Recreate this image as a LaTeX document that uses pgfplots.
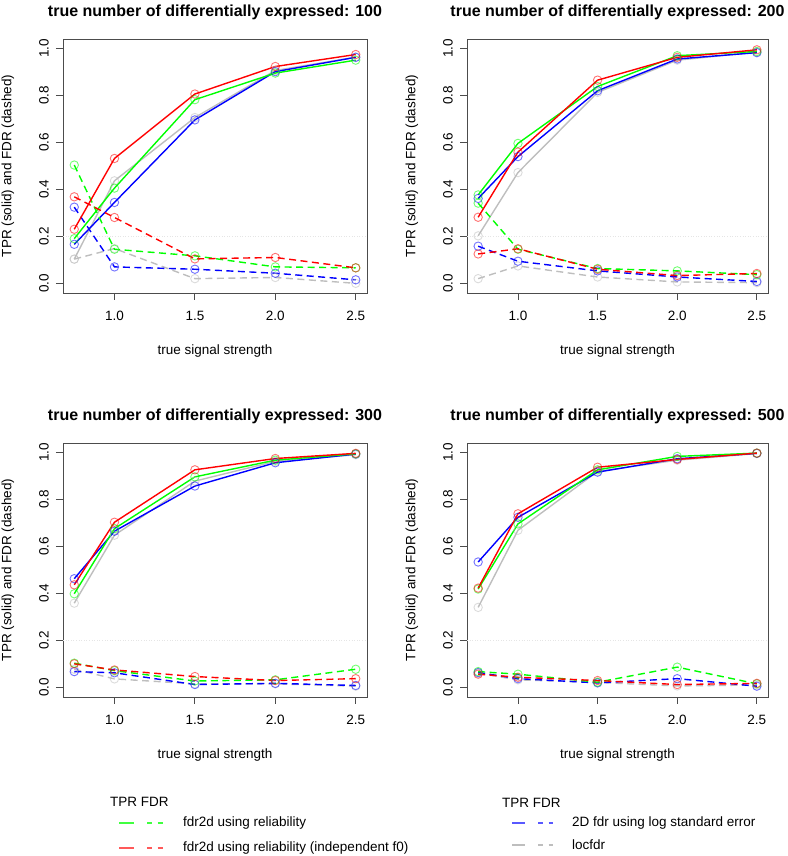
\documentclass[border=0pt]{standalone}
\usepackage{fontspec}
\setmainfont{Liberation Sans}
\usepackage{pgfplots}
\usepackage{pgfplotstable}
\pgfplotsset{compat=1.18}

\definecolor{rgreen}{HTML}{00FF00}
\definecolor{rred}{HTML}{FF0000}
\definecolor{rblue}{HTML}{0000FF}
\definecolor{rgray}{HTML}{BEBEBE}

% columns: x, green TPR/FDR, red TPR/FDR, blue TPR/FDR, gray TPR/FDR
\pgfplotstableread{
x    gT    gF    rT    rF    bT    bF    kT    kF
0.75 0.191 0.504 0.231 0.369 0.167 0.325 0.104 0.104
1.0  0.406 0.146 0.532 0.281 0.345 0.071 0.437 0.149
1.5  0.782 0.118 0.806 0.105 0.696 0.061 0.706 0.021
2.0  0.895 0.071 0.923 0.111 0.901 0.044 0.906 0.026
2.5  0.950 0.067 0.974 0.067 0.962 0.016 0.963 0.001
}\tabA
\pgfplotstableread{
x    gT    gF    rT    rF    bT    bF    kT    kF
0.75 0.377 0.342 0.282 0.126 0.362 0.159 0.203 0.021
1.0  0.596 0.146 0.559 0.148 0.540 0.095 0.472 0.075
1.5  0.838 0.064 0.865 0.061 0.820 0.054 0.813 0.028
2.0  0.969 0.054 0.962 0.034 0.955 0.028 0.950 0.007
2.5  0.987 0.038 0.994 0.043 0.982 0.009 0.984 0.004
}\tabB
\pgfplotstableread{
x    gT    gF    rT    rF    bT    bF    kT    kF
0.75 0.399 0.104 0.437 0.101 0.463 0.068 0.359 0.078
1.0  0.676 0.072 0.703 0.075 0.665 0.063 0.648 0.037
1.5  0.896 0.028 0.926 0.047 0.857 0.013 0.878 0.016
2.0  0.967 0.033 0.974 0.030 0.956 0.018 0.962 0.016
2.5  0.994 0.078 0.996 0.038 0.993 0.009 0.990 0.006
}\tabC
\pgfplotstableread{
x    gT    gF    rT    rF    bT    bF    kT    kF
0.75 0.419 0.068 0.423 0.057 0.534 0.064 0.341 0.061
1.0  0.696 0.057 0.739 0.044 0.724 0.038 0.669 0.033
1.5  0.926 0.023 0.937 0.030 0.916 0.020 0.919 0.022
2.0  0.983 0.087 0.970 0.013 0.973 0.038 0.967 0.007
2.5  0.997 0.016 0.997 0.018 0.996 0.006 0.995 0.011
}\tabD

\newcommand\fs{\fontsize{13.5}{16}\selectfont}

\pgfplotsset{
  panel/.style={
    scale only axis, height=254pt, anchor=south west,
    xmin=0.68, xmax=2.57, ymin=-0.04, ymax=1.04,
    xtick={1,1.5,2,2.5}, ytick={0,0.2,0.4,0.6,0.8,1.0},
    xticklabels={1.0,1.5,2.0,2.5},
    yticklabels={0.0,0.2,0.4,0.6,0.8,1.0},
    tick align=outside, major tick length=7pt,
    xtick pos=left, ytick pos=left,
    axis line style={black!70, line width=0.8pt},
    tick style={black!70, line width=0.8pt},
    xticklabel style={font=\fs, anchor=north, inner ysep=11pt},
    yticklabel style={font=\fs, rotate=90, anchor=south, inner ysep=7pt},
    xlabel={true signal strength},
    ylabel={TPR (solid) and FDR (dashed)},
    label style={font=\fs},
    title style={font=\bfseries\fontsize{16}{19}\selectfont, anchor=center},
    clip=false,
  },
  tprS/.style={color=#1, line width=1.4pt, mark=o, mark size=4.2pt,
    mark options={solid, opacity=0.55, line width=0.9pt}},
  fdrS/.style={color=#1, line width=1.4pt, dash pattern=on 7pt off 4.5pt, mark=o, mark size=4.2pt,
    mark options={solid, opacity=0.55, line width=0.9pt}},
}

\newcommand\panelplots[1]{%
  \addplot[rgray!40, dotted, line width=0.6pt, mark=none] coordinates {(0.68,0.2) (2.57,0.2)};
  \addplot[tprS=rgray] table[x=x,y=kT]{#1};
  \addplot[fdrS=rgray] table[x=x,y=kF]{#1};
  \addplot[tprS=rblue] table[x=x,y=bT]{#1};
  \addplot[fdrS=rblue] table[x=x,y=bF]{#1};
  \addplot[tprS=rgreen] table[x=x,y=gT]{#1};
  \addplot[fdrS=rgreen] table[x=x,y=gF]{#1};
  \addplot[tprS=rred] table[x=x,y=rT]{#1};
  \addplot[fdrS=rred] table[x=x,y=rF]{#1};
}

\begin{document}
\begin{tikzpicture}[x=1pt,y=1pt]
\path[use as bounding box] (0,0) rectangle (787,856);

\begin{axis}[panel, at={(63pt,563pt)}, width=304pt,
  xlabel style={at={(axis description cs:0.5,-0.228)}, anchor=center},
  ylabel style={at={(axis description cs:-0.181,0.5)}, anchor=center},
  title style={at={(axis description cs:0.5,1.083)}},
  title={true number of differentially expressed: 100}]
\panelplots{\tabA}
\end{axis}

\begin{axis}[panel, at={(467pt,563pt)}, width=301pt,
  xlabel style={at={(axis description cs:0.5,-0.228)}, anchor=center},
  ylabel style={at={(axis description cs:-0.183,0.5)}, anchor=center},
  title style={at={(axis description cs:0.5,1.083)}},
  title={true number of differentially expressed: 200}]
\panelplots{\tabB}
\end{axis}

\begin{axis}[panel, at={(63pt,159pt)}, width=304pt,
  xlabel style={at={(axis description cs:0.5,-0.228)}, anchor=center},
  ylabel style={at={(axis description cs:-0.181,0.5)}, anchor=center},
  title style={at={(axis description cs:0.5,1.083)}},
  title={true number of differentially expressed: 300}]
\panelplots{\tabC}
\end{axis}

\begin{axis}[panel, at={(467pt,159pt)}, width=301pt,
  xlabel style={at={(axis description cs:0.5,-0.228)}, anchor=center},
  ylabel style={at={(axis description cs:-0.183,0.5)}, anchor=center},
  title style={at={(axis description cs:0.5,1.083)}},
  title={true number of differentially expressed: 500}]
\panelplots{\tabD}
\end{axis}

% legends
\node[anchor=west, font=\fs, inner sep=0pt] at (110,54) {TPR FDR};
\draw[rgreen, opacity=0.75, line width=1.6pt] (119,33) -- (134,33);
\draw[rgreen, opacity=0.75, line width=1.6pt, dash pattern=on 5pt off 5.5pt] (147,33) -- (163,33);
\node[anchor=west, font=\fs, inner sep=0pt] at (183,33) {fdr2d using reliability};
\draw[rred, opacity=0.65, line width=1.6pt] (119,8) -- (134,8);
\draw[rred, opacity=0.65, line width=1.6pt, dash pattern=on 5pt off 5.5pt] (147,8) -- (163,8);
\node[anchor=west, font=\fs, inner sep=0pt] at (183,8) {fdr2d using reliability (independent f0)};

\node[anchor=west, font=\fs, inner sep=0pt] at (502,53) {TPR FDR};
\draw[rblue, opacity=0.65, line width=1.6pt] (512,33) -- (525,33);
\draw[rblue, opacity=0.65, line width=1.6pt, dash pattern=on 5pt off 5.5pt] (538,33) -- (553,33);
\node[anchor=west, font=\fs, inner sep=0pt] at (572,33) {2D fdr using log standard error};
\draw[rgray, line width=1.6pt] (512,11) -- (525,11);
\draw[rgray, line width=1.6pt, dash pattern=on 5pt off 5.5pt] (538,11) -- (553,11);
\node[anchor=west, font=\fs, inner sep=0pt] at (572,11) {locfdr};
\end{tikzpicture}
\end{document}
